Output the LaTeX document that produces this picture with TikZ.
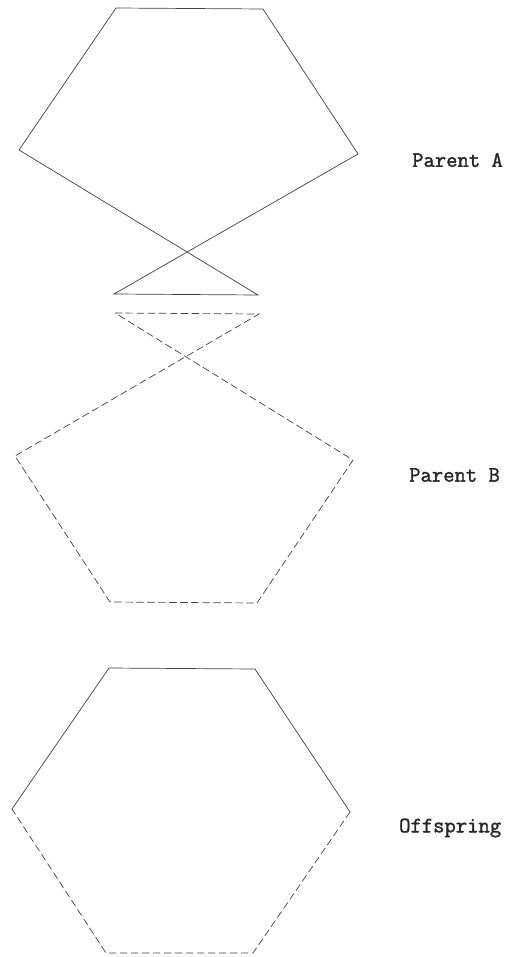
\documentclass[tikz,border=0pt]{standalone}
\usepackage{fontspec}
\newfontfamily\tagfont{Latin Modern Mono}[FakeBold=1.6]
\usetikzlibrary{positioning}

\tikzset{
  edge/.style={line width=0.7pt, draw=black!75, line cap=round},
  dashedge/.style={edge, dash pattern=on 7pt off 4pt},
  tag/.style={font=\tagfont\fontsize{22}{24}\selectfont, anchor=west, text=black!85, inner sep=0pt}
}

\begin{document}
\begin{tikzpicture}[x=1pt, y=-1pt]
\useasboundingbox (0,0) rectangle (517,957);

% --- Parent A panel ---
\coordinate (a1) at (116, 8);
\coordinate (a2) at (263, 9);
\coordinate (a3) at (358, 154);
\coordinate (a4) at (258, 295);
\coordinate (a5) at (114, 294);
\coordinate (a6) at (19, 150);
\draw[edge] (a1) -- (a2) -- (a3) -- (a5) -- (a4) -- (a6) -- cycle;
\node[tag] (pa) at (412, 160) {Parent A};

% --- Parent B panel ---
\coordinate (b1) at (115, 313);
\coordinate (b2) at (259, 314);
\coordinate (b3) at (353, 460);
\coordinate (b4) at (257, 603);
\coordinate (b5) at (110, 602);
\coordinate (b6) at (15, 456);
\draw[dashedge] (b1) -- (b2) -- (b6) -- (b5) -- (b4) -- (b3) -- cycle;
\node[tag] (pb) at (409, 475) {Parent B};

% --- Offspring panel ---
\coordinate (c1) at (109, 668);
\coordinate (c2) at (255, 669);
\coordinate (c3) at (350, 812);
\coordinate (c4) at (253, 953);
\coordinate (c5) at (106, 953);
\coordinate (c6) at (12, 809);
% upper half from A, lower half from B
\draw[edge] (c6) -- (c1) -- (c2) -- (c3);
\draw[dashedge] (c3) -- (c4) -- (c5) -- (c6);
\node[tag] (off) at (399, 828) {Offspring};

\end{tikzpicture}
\end{document}
